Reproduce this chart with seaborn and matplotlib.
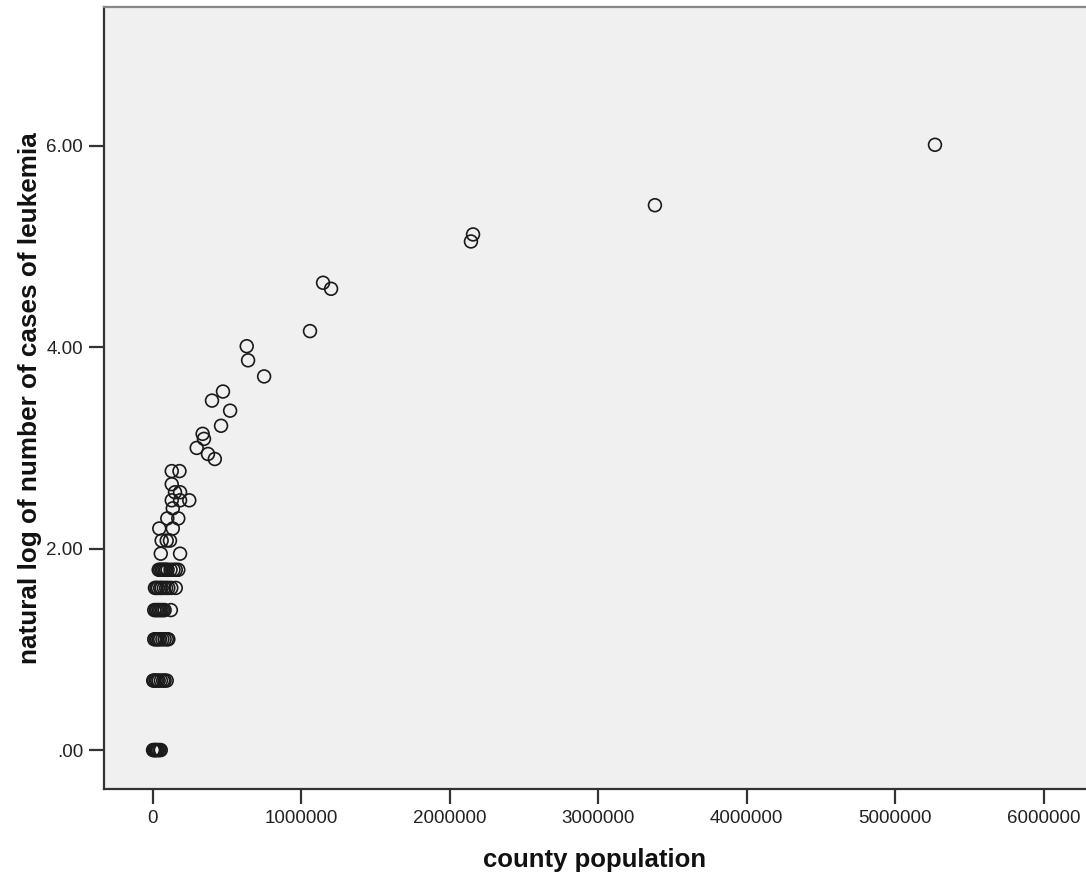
import matplotlib
matplotlib.use("Agg")
import matplotlib.pyplot as plt
import seaborn as sns
import pandas as pd

# county population vs natural log of leukemia cases
population = [
    2000, 8000, 15000, 20000, 28000, 35000, 45000, 54000,
    3000, 10000, 20000, 30000, 40000, 55000, 70000, 80000, 94000,
    10000, 20000, 30000, 40000, 50000, 65000, 80000, 95000, 105000,
    10000, 20000, 30000, 40000, 50000, 60000, 70000, 80000, 122000,
    15000, 25000, 35000, 50000, 60000, 75000, 90000, 105000, 125000, 155000,
    40000, 50000, 60000, 70000, 80000, 90000, 100000, 120000, 140000, 155000, 172000,
    54000, 184000,
    60000, 94000, 116000,
    44000, 135000,
    98000, 172000,
    135000,
    128000, 184000, 246000,
    150000, 184000,
    128000,
    128000, 180000,
    418000, 372000, 296000, 345000, 336000, 460000, 521000, 399000, 473000,
    750000, 642000, 633000, 1059000, 1201000, 1147000,
    2143000, 2157000, 3382000, 5268000,
]
log_cases = [
    0.00, 0.00, 0.00, 0.00, 0.00, 0.00, 0.00, 0.00,
    0.69, 0.69, 0.69, 0.69, 0.69, 0.69, 0.69, 0.69, 0.69,
    1.10, 1.10, 1.10, 1.10, 1.10, 1.10, 1.10, 1.10, 1.10,
    1.39, 1.39, 1.39, 1.39, 1.39, 1.39, 1.39, 1.39, 1.39,
    1.61, 1.61, 1.61, 1.61, 1.61, 1.61, 1.61, 1.61, 1.61, 1.61,
    1.79, 1.79, 1.79, 1.79, 1.79, 1.79, 1.79, 1.79, 1.79, 1.79, 1.79,
    1.95, 1.95,
    2.08, 2.08, 2.08,
    2.20, 2.20,
    2.30, 2.30,
    2.40,
    2.48, 2.48, 2.48,
    2.56, 2.56,
    2.64,
    2.77, 2.77,
    2.89, 2.94, 3.00, 3.09, 3.14, 3.22, 3.37, 3.47, 3.56,
    3.71, 3.87, 4.01, 4.16, 4.58, 4.64,
    5.05, 5.12, 5.41, 6.01,
]

x_ticks = [0, 1000000, 2000000, 3000000, 4000000, 5000000, 6000000]
x_tick_labels = ["0", "1000000", "2000000", "3000000", "4000000", "5000000", "6000000"]
y_ticks = [0, 2, 4, 6]
y_tick_labels = [".00", "2.00", "4.00", "6.00"]

df = pd.DataFrame({"county population": population,
                   "natural log of number of cases of leukemia": log_cases})

sns.set_style("white")
plt.rcParams["font.family"] = ["Liberation Sans", "DejaVu Sans"]

fig = plt.figure(figsize=(10.86, 8.77), dpi=100)
ax = fig.add_axes([0.0958, 0.1003, 0.9042, 0.8917])
ax.set_facecolor("#f0f0f0")

sns.scatterplot(data=df, x="county population",
                y="natural log of number of cases of leukemia",
                ax=ax, marker="o", s=85, facecolor="none",
                edgecolor="#1a1a1a", linewidth=1.2, legend=False)

ax.set_xlim(-328000, 6285000)
ax.set_ylim(-0.387, 7.378)
ax.set_xticks(x_ticks, x_tick_labels)
ax.set_yticks(y_ticks, y_tick_labels)
ax.tick_params(axis="both", direction="out", length=11, width=1.6,
               color="#333333", labelsize=13.5, labelcolor="#222222", pad=4,
               bottom=True, left=True)

for side in ["left", "bottom"]:
    ax.spines[side].set_color("#333333")
    ax.spines[side].set_linewidth(1.6)
ax.spines["top"].set_color("#888888")
ax.spines["top"].set_linewidth(1.6)
ax.spines["right"].set_visible(False)

ax.set_xlabel("county population", fontsize=18.5, fontweight="bold",
              color="#111111", labelpad=15)
ax.set_ylabel("natural log of number of cases of leukemia", fontsize=18.8,
              fontweight="bold", color="#111111", labelpad=3)

fig.savefig("out.png", dpi=100)
